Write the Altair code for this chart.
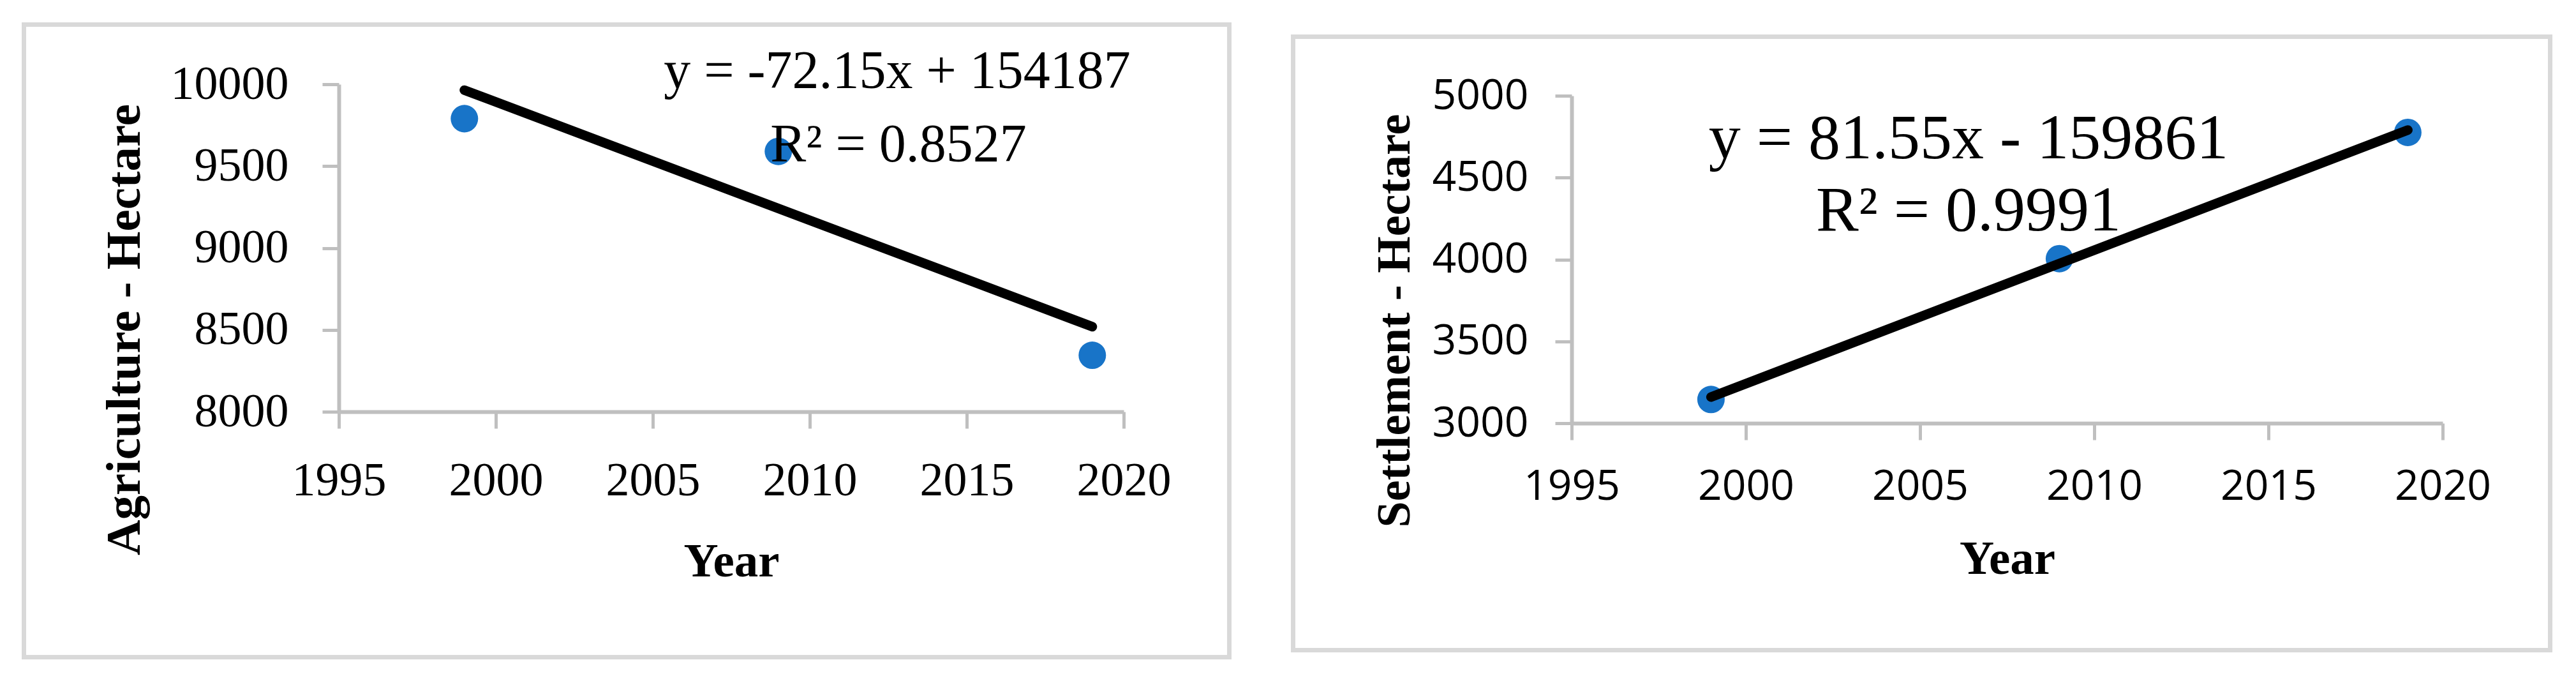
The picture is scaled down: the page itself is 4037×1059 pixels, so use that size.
import altair as alt
import pandas as pd

# ---------------- data ----------------
years = [1999, 2009, 2019]
agriculture = [9790, 9590, 8345]
settlement = [3145, 4005, 4776]

x_ticks = [1995, 2000, 2005, 2010, 2015, 2020]
agri_ticks = [8000, 8500, 9000, 9500, 10000]
settle_ticks = [3000, 3500, 4000, 4500, 5000]

agri_eq = ["y = -72.15x + 154187", "R² = 0.8527"]
settle_eq = ["y = 81.55x - 159861", "R² = 0.9991"]

x_title = "Year"
agri_title = "Agriculture - Hectare"
settle_title = "Settlement - Hectare"

# ---------------- styles ----------------
SERIF = "Liberation Serif"
SANS = "Open Sans"
BLUE = "#1874C8"
AXIS_GRAY = "#BFBFBF"
FRAME_GRAY = "#D9D9D9"

one = pd.DataFrame({"k": [0]})


def panel(yvals, yticks, eq, ytitle, W, H, top, label_font, label_size,
          ylab_pad, xlab_pad, xtitle_y, ytitle_x, ytitle_y, ytitle_size,
          eq_size, eq_pos, frame):
    df = pd.DataFrame({"year": years, "value": yvals})
    xs = alt.Scale(domain=[x_ticks[0], x_ticks[-1]], nice=False, zero=False)
    ys = alt.Scale(domain=[yticks[0], yticks[-1]], nice=False, zero=False,
                   range=[H + top, top])
    common = dict(
        domainColor=AXIS_GRAY, domainWidth=6, tickColor=AXIS_GRAY,
        tickWidth=5, tickSize=26, grid=False, labelColor="black",
        labelFont=label_font, labelFontSize=label_size, labelFlush=False,
        labelOverlap=False, labelLimit=0, titleColor="black",
        titleFont=SERIF, titleFontWeight="bold",
        titleBaseline="alphabetic", zindex=1,
    )
    xaxis = alt.Axis(values=x_ticks, format="d", labelPadding=xlab_pad,
                     title=x_title, titleFontSize=75, titleY=xtitle_y,
                     **common)
    yaxis = alt.Axis(values=yticks, format="d", labelPadding=ylab_pad,
                     title=ytitle, titleFontSize=ytitle_size, titleAngle=270,
                     titleX=ytitle_x, titleY=ytitle_y + top,
                     titleAlign="center", **common)

    fx1, fx2, fy1, fy2 = frame
    frame_layer = alt.Chart(one).mark_rect(
        fillOpacity=0, stroke=FRAME_GRAY, strokeWidth=7
    ).encode(x=alt.value(fx1), x2=alt.value(fx2),
             y=alt.value(fy1 + top), y2=alt.value(fy2 + top))

    points = alt.Chart(df).mark_circle(size=1850, color=BLUE, opacity=1).encode(
        x=alt.X("year:Q", scale=xs, axis=xaxis),
        y=alt.Y("value:Q", scale=ys, axis=yaxis),
    )
    trend = alt.Chart(df).transform_regression("year", "value").mark_line(
        color="black", strokeWidth=15, strokeCap="round"
    ).encode(x=alt.X("year:Q", scale=xs, axis=xaxis),
             y=alt.Y("value:Q", scale=ys, axis=yaxis))

    texts = []
    for line, (tx, ty) in zip(eq, eq_pos):
        texts.append(
            alt.Chart(one).mark_text(
                text=line, font=SERIF, fontSize=eq_size, color="black",
                align="center", baseline="alphabetic"
            ).encode(x=alt.value(tx), y=alt.value(ty + top))
        )

    layers = [frame_layer, points, trend] + texts
    return alt.layer(*layers).properties(width=W, height=H + top)


left = panel(
    agriculture, agri_ticks, agri_eq, agri_title, W=1230, H=513, top=0,
    label_font=SERIF, label_size=74, ylab_pad=53, xlab_pad=46,
    xtitle_y=257, ytitle_x=-313, ytitle_y=384, ytitle_size=77,
    eq_size=84, eq_pos=[(875, 6), (877, 121)],
    frame=(-493.5, 1395.5, -93.5, 897.5),
)

right = panel(
    settlement, settle_ticks, settle_eq, settle_title, W=1365, H=513, top=18,
    label_font=SANS, label_size=66, ylab_pad=42, xlab_pad=41,
    xtitle_y=235, ytitle_x=-255, ytitle_y=352, ytitle_size=74,
    eq_size=100, eq_pos=[(622, 98), (622, 211)],
    frame=(-436.5, 1533.5, -92.5, 868.5),
)

chart = alt.hconcat(left, right, spacing=93).properties(
    padding={"left": 26, "top": 27, "right": 10, "bottom": 10},
    background="white",
).configure_view(stroke=None)

chart.save("out.html", embed_options={"renderer": "svg", "actions": False})
